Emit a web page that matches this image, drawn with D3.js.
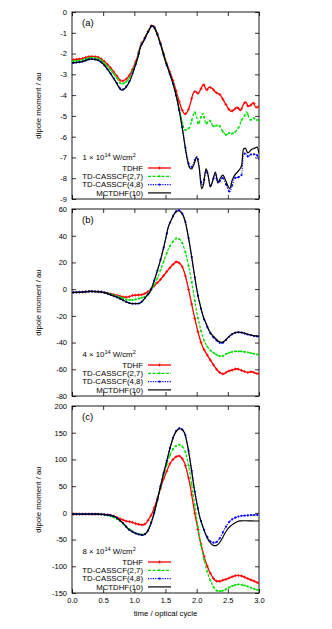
<!DOCTYPE html>
<html>
<head>
<meta charset="utf-8">
<script src="https://cdn.jsdelivr.net/npm/d3@7"></script>
<style>
  body { margin: 0; background: #fff; }
  svg { display: block; font-family: "Liberation Sans", Arial, sans-serif; }
  .tick text { font-size: 7.5px; fill: #000; }
  .tick line { stroke: #000; stroke-width: 0.8; }
</style>
</head>
<body>
<script>
// data: [time / optical cycle, dipole moment / au]

// panel (a) 1e14 W/cm2
var aTDHF = [[0,-2.3],[0.15,-2.25],[0.3,-2.14],[0.4,-2.16],[0.5,-2.33],[0.6,-2.62],[0.7,-3.0],[0.8,-3.33],[0.86,-3.25],[0.93,-3.0],[1.0,-2.55],[1.05,-2.15],[1.1,-1.6],[1.15,-1.35],[1.2,-1.05],[1.25,-0.78],[1.28,-0.64],[1.32,-0.72],[1.37,-1.05],[1.43,-1.6],[1.5,-2.3],[1.56,-2.8],[1.62,-3.3],[1.68,-3.9],[1.73,-4.4],[1.78,-4.8],[1.81,-4.91],[1.86,-4.75],[1.9,-4.4],[1.94,-3.95],[1.98,-3.82],[2.02,-3.92],[2.06,-3.75],[2.11,-3.49],[2.16,-3.76],[2.2,-3.62],[2.24,-3.66],[2.3,-3.85],[2.38,-4.0],[2.44,-4.3],[2.5,-4.6],[2.55,-4.78],[2.6,-4.7],[2.65,-4.58],[2.7,-4.75],[2.75,-4.45],[2.79,-4.33],[2.83,-4.55],[2.88,-4.45],[2.91,-4.36],[2.95,-4.6],[3.0,-4.52]];
var aCAS27 = [[0,-2.37],[0.15,-2.32],[0.3,-2.2],[0.4,-2.22],[0.5,-2.4],[0.6,-2.72],[0.7,-3.1],[0.8,-3.46],[0.86,-3.38],[0.93,-3.12],[1.0,-2.62],[1.05,-2.2],[1.1,-1.63],[1.15,-1.37],[1.2,-1.06],[1.25,-0.78],[1.28,-0.65],[1.32,-0.73],[1.37,-1.07],[1.43,-1.62],[1.5,-2.33],[1.56,-2.85],[1.62,-3.4],[1.68,-4.1],[1.73,-4.75],[1.78,-5.45],[1.82,-5.68],[1.86,-5.62],[1.89,-5.55],[1.93,-5.1],[1.97,-4.83],[2.0,-5.05],[2.03,-5.4],[2.07,-5.05],[2.1,-4.88],[2.15,-5.4],[2.2,-5.2],[2.27,-5.5],[2.35,-5.45],[2.43,-5.8],[2.48,-5.92],[2.52,-5.82],[2.56,-5.85],[2.64,-5.7],[2.69,-5.45],[2.72,-5.2],[2.76,-5.05],[2.8,-4.8],[2.83,-5.0],[2.86,-5.2],[2.9,-5.1],[2.94,-5.15],[3.0,-5.25]];
var aCAS48 = [[0,-2.45],[0.15,-2.4],[0.3,-2.27],[0.4,-2.3],[0.5,-2.5],[0.6,-2.88],[0.7,-3.33],[0.8,-3.74],[0.86,-3.63],[0.93,-3.28],[1.0,-2.7],[1.05,-2.26],[1.1,-1.67],[1.15,-1.4],[1.2,-1.08],[1.25,-0.8],[1.28,-0.66],[1.32,-0.75],[1.37,-1.1],[1.43,-1.65],[1.5,-2.38],[1.56,-2.9],[1.62,-3.45],[1.68,-4.15],[1.73,-4.88],[1.77,-5.55],[1.81,-6.35],[1.85,-7.0],[1.89,-7.45],[1.92,-7.45],[1.96,-7.2],[2.0,-6.95],[2.04,-7.4],[2.08,-8.3],[2.11,-8.2],[2.15,-7.6],[2.18,-7.85],[2.22,-8.35],[2.26,-8.1],[2.3,-7.8],[2.34,-8.25],[2.38,-8.1],[2.42,-8.0],[2.47,-8.3],[2.53,-8.65],[2.57,-8.35],[2.61,-8.0],[2.67,-7.95],[2.72,-7.85],[2.75,-6.9],[2.78,-6.8],[2.82,-6.95],[2.88,-6.85],[2.93,-6.85],[2.97,-6.9],[3.0,-7.15]];
var aMCTDHF = [[0,-2.45],[0.15,-2.4],[0.3,-2.27],[0.4,-2.3],[0.5,-2.5],[0.6,-2.88],[0.7,-3.35],[0.8,-3.76],[0.86,-3.65],[0.93,-3.3],[1.0,-2.72],[1.05,-2.27],[1.1,-1.68],[1.15,-1.4],[1.2,-1.08],[1.25,-0.8],[1.28,-0.66],[1.32,-0.75],[1.37,-1.1],[1.43,-1.65],[1.5,-2.38],[1.56,-2.9],[1.62,-3.45],[1.68,-4.15],[1.73,-4.9],[1.77,-5.6],[1.81,-6.4],[1.85,-7.1],[1.89,-7.5],[1.92,-7.55],[1.96,-7.3],[2.0,-7.0],[2.04,-7.5],[2.08,-8.5],[2.11,-8.3],[2.15,-7.55],[2.18,-7.8],[2.22,-8.42],[2.26,-8.1],[2.3,-7.7],[2.34,-8.2],[2.38,-8.0],[2.42,-7.85],[2.47,-8.15],[2.53,-8.5],[2.57,-8.1],[2.61,-7.85],[2.67,-7.65],[2.72,-7.4],[2.75,-6.6],[2.78,-6.55],[2.82,-6.78],[2.88,-6.62],[2.93,-6.55],[2.97,-6.5],[3.0,-6.8]];

// panel (b) 4e14 W/cm2
var bTDHF = [[0,-2.5],[0.15,-2.2],[0.3,-1.7],[0.45,-2.0],[0.55,-2.8],[0.65,-3.8],[0.77,-5.2],[0.85,-6.0],[0.92,-5.6],[0.98,-4.6],[1.05,-4.4],[1.12,-4.2],[1.18,-3.0],[1.25,-0.8],[1.3,1.6],[1.41,6.7],[1.54,14.2],[1.62,18.5],[1.68,20.5],[1.72,19.5],[1.76,17.5],[1.81,11.5],[1.85,4],[1.89,-4.6],[1.97,-22],[2.05,-37],[2.1,-43.5],[2.16,-48.6],[2.26,-56],[2.32,-60],[2.37,-62.4],[2.44,-63.6],[2.48,-62],[2.52,-61.2],[2.58,-60.5],[2.64,-59.6],[2.7,-60.5],[2.76,-61.5],[2.82,-62.4],[2.88,-61.8],[2.94,-62.8],[3.0,-63.5]];
var bCAS27 = [[0,-2.5],[0.15,-2.2],[0.3,-1.7],[0.45,-2.0],[0.55,-2.9],[0.65,-4.2],[0.77,-6.0],[0.88,-7.8],[0.96,-8.2],[1.03,-7.5],[1.1,-6.6],[1.17,-5.6],[1.23,-2.8],[1.28,0.4],[1.35,6],[1.41,13],[1.48,22],[1.54,29.3],[1.61,35],[1.68,38.1],[1.72,37.5],[1.76,35.5],[1.8,30.5],[1.84,24],[1.88,15],[1.92,5.4],[1.96,-6],[2.0,-17],[2.05,-27.5],[2.1,-36],[2.15,-41.5],[2.2,-44.8],[2.28,-48],[2.35,-49.8],[2.4,-50.3],[2.47,-48.5],[2.54,-47.3],[2.62,-46.6],[2.7,-46.6],[2.78,-47],[2.86,-47.8],[2.93,-48.4],[3.0,-49.3]];
var bCAS48 = [[0,-2.5],[0.15,-2.2],[0.3,-1.7],[0.45,-2.0],[0.55,-3.0],[0.65,-4.8],[0.77,-7.1],[0.87,-9.5],[0.96,-10.8],[1.06,-10.8],[1.1,-10.1],[1.14,-8.3],[1.2,-5],[1.25,-2.1],[1.33,8],[1.39,17],[1.44,25.5],[1.5,37],[1.54,45.7],[1.6,52.5],[1.65,57.2],[1.71,59],[1.75,57.8],[1.79,54.6],[1.83,48.3],[1.86,40.8],[1.9,30.2],[1.94,18],[1.98,6],[2.02,-4.8],[2.06,-12.8],[2.1,-20],[2.15,-26],[2.2,-31.5],[2.25,-35],[2.31,-38],[2.36,-40],[2.4,-40.5],[2.44,-39.5],[2.48,-37.6],[2.53,-35.2],[2.59,-33.2],[2.67,-32.4],[2.74,-32.8],[2.8,-33.7],[2.86,-34.4],[2.91,-35],[3.0,-35.5]];
var bMCTDHF = [[0,-2.5],[0.15,-2.2],[0.3,-1.7],[0.45,-2.0],[0.55,-3.0],[0.65,-4.8],[0.77,-7.1],[0.87,-9.5],[0.96,-10.9],[1.06,-10.9],[1.1,-10.2],[1.14,-8.4],[1.2,-5],[1.25,-2.1],[1.33,8],[1.39,17],[1.44,25.5],[1.5,37],[1.54,45.7],[1.6,52.5],[1.65,57],[1.71,58.7],[1.75,57.5],[1.79,54.4],[1.83,48],[1.86,40.6],[1.9,30],[1.94,18],[1.98,6],[2.02,-4.6],[2.06,-12.5],[2.1,-19.7],[2.15,-25.5],[2.2,-31],[2.25,-34.5],[2.31,-37.3],[2.36,-39.3],[2.4,-39.8],[2.44,-39],[2.48,-37.3],[2.53,-35],[2.59,-33],[2.67,-32.2],[2.74,-32.6],[2.8,-33.5],[2.86,-34.2],[2.91,-34.8],[3.0,-35.2]];

// panel (c) 8e14 W/cm2
var cTDHF = [[0,-2.5],[0.2,-2.3],[0.4,-2.5],[0.55,-3.5],[0.65,-5.5],[0.77,-11],[0.87,-15.5],[0.96,-17.5],[1.04,-20.6],[1.12,-22.5],[1.17,-21],[1.2,-17.5],[1.24,-10],[1.28,-2],[1.36,23],[1.46,60.7],[1.52,78],[1.57,91.8],[1.63,101],[1.68,105.6],[1.72,106.5],[1.77,101],[1.81,92],[1.85,75],[1.89,54.4],[1.93,27],[1.97,-0.6],[2.01,-25],[2.05,-48.8],[2.09,-68],[2.13,-86.3],[2.17,-100],[2.21,-111],[2.25,-119],[2.29,-125.6],[2.33,-128],[2.37,-128],[2.42,-126],[2.48,-124],[2.54,-121],[2.59,-118.7],[2.65,-117],[2.7,-117.5],[2.75,-119.5],[2.8,-122],[2.87,-125.5],[2.94,-128.6],[3.0,-132]];
var cCAS27 = [[0,-2.5],[0.2,-2.3],[0.4,-2.5],[0.55,-4],[0.65,-7.5],[0.77,-15],[0.87,-26],[0.96,-33.5],[1.04,-38.5],[1.12,-40.5],[1.17,-39.5],[1.22,-32],[1.26,-20],[1.3,-7],[1.38,29],[1.46,66],[1.52,90],[1.57,107.5],[1.63,121],[1.68,126],[1.73,127.5],[1.77,124],[1.81,117],[1.85,99],[1.89,76],[1.93,45],[1.97,13.8],[2.01,-18],[2.05,-48.8],[2.09,-72],[2.13,-92.5],[2.17,-110],[2.21,-123.7],[2.25,-134],[2.29,-142.5],[2.35,-146.5],[2.4,-146],[2.48,-142.5],[2.54,-138.5],[2.59,-136],[2.67,-134],[2.74,-135],[2.8,-137],[2.87,-140],[2.94,-143],[3.0,-145]];
var cCAS48 = [[0,-2.5],[0.2,-2.3],[0.4,-2.5],[0.5,-3],[0.61,-4.5],[0.7,-8],[0.77,-14.3],[0.85,-23],[0.9,-30],[0.97,-35.5],[1.04,-39.3],[1.1,-41],[1.14,-41.5],[1.18,-39],[1.22,-33.1],[1.26,-22],[1.3,-8.1],[1.34,10],[1.38,29.4],[1.42,50],[1.46,70],[1.52,97.5],[1.57,121],[1.61,137],[1.65,149],[1.69,156],[1.73,158.5],[1.77,156],[1.81,149],[1.85,129],[1.89,102],[1.93,71],[1.97,40],[2.01,14.5],[2.05,-7.5],[2.09,-22],[2.13,-35],[2.17,-45],[2.21,-52],[2.25,-55.5],[2.29,-56],[2.33,-53.5],[2.37,-47.5],[2.4,-41],[2.44,-32],[2.48,-24],[2.53,-16],[2.59,-11],[2.64,-8],[2.7,-6],[2.78,-5],[2.86,-4.5],[2.93,-4],[3.0,-4]];
var cMCTDHF = [[0,-2.5],[0.2,-2.3],[0.4,-2.5],[0.5,-3],[0.61,-4.5],[0.7,-8],[0.77,-14.3],[0.85,-23],[0.9,-30],[0.97,-35.5],[1.04,-39.3],[1.1,-41],[1.14,-41.5],[1.18,-39],[1.22,-33.1],[1.26,-22],[1.3,-8.1],[1.34,10],[1.38,29.4],[1.42,50],[1.46,70],[1.52,97],[1.57,120],[1.61,136],[1.65,148],[1.69,155],[1.73,157.4],[1.77,155],[1.81,148],[1.85,128],[1.89,101],[1.93,70],[1.97,39],[2.01,14],[2.05,-8.1],[2.09,-23],[2.13,-36.2],[2.17,-47],[2.21,-55],[2.25,-59.5],[2.29,-61.5],[2.33,-60],[2.37,-55.5],[2.4,-50],[2.44,-41],[2.48,-33],[2.53,-26],[2.59,-20.6],[2.64,-17],[2.7,-15],[2.78,-14.8],[2.86,-15],[2.93,-15.2],[3.0,-15.2]];

var seriesNames = ['TDHF', 'TD-CASSCF(2,7)', 'TD-CASSCF(4,8)', 'MCTDHF(10)'];
var panelLetters = ['(a)', '(b)', '(c)'];
var intensities = ['1', '4', '8'];
var yDomains = [[-9, 0], [-80, 60], [-150, 200]];
var yTicks = [d3.range(-9, 1, 1), d3.range(-80, 61, 20), d3.range(-150, 201, 50)];
var xTicks = [0, 0.5, 1, 1.5, 2, 2.5, 3];
var panelData = [
  [aTDHF, aCAS27, aCAS48, aMCTDHF],
  [bTDHF, bCAS27, bCAS48, bMCTDHF],
  [cTDHF, cCAS27, cCAS48, cMCTDHF]
];

// styles ------------------------------------------
var styles = [
  {color: '#ff0000', dash: null, width: 1.3, marker: 'plus'},
  {color: '#00dd00', dash: '3,1.5', width: 1.2, marker: 'square'},
  {color: '#0000ff', dash: '1.2,1.2', width: 1.1, marker: 'dot'},
  {color: '#000000', dash: null, width: 1.2, marker: null}
];

var W = 332, H = 629;
var left = 72, right = 259;
var tops = [12, 209, 406];
var ph = 187;

var svg = d3.select('body').append('svg')
  .attr('width', W)
  .attr('height', H);

var x = d3.scaleLinear().domain([0, 3]).range([left, right]);

var drawMarker = function(g, kind, px, py, color) {
  if (kind === 'plus') {
    g.append('path')
      .attr('d', 'M' + (px - 1.5) + ',' + py + 'h3M' + px + ',' + (py - 1.5) + 'v3')
      .attr('stroke', color).attr('stroke-width', 0.8).attr('fill', 'none');
  } else if (kind === 'square') {
    g.append('rect')
      .attr('x', px - 0.9).attr('y', py - 0.9)
      .attr('width', 1.8).attr('height', 1.8)
      .attr('fill', color);
  } else if (kind === 'dot') {
    g.append('circle')
      .attr('cx', px).attr('cy', py).attr('r', 1.1)
      .attr('fill', color);
  }
};

// point on a path whose x equals target (x grows with length here)
var pointAtX = function(node, target) {
  var lo = 0, hi = node.getTotalLength(), p;
  for (var i = 0; i < 22; i++) {
    var mid = (lo + hi) / 2;
    p = node.getPointAtLength(mid);
    if (p.x < target) lo = mid; else hi = mid;
  }
  return p;
};

panelData.forEach(function(series, k) {
  var top = tops[k], bottom = top + ph;
  var y = d3.scaleLinear().domain(yDomains[k]).range([bottom, top]);
  var g = svg.append('g');

  var line = d3.line()
    .x(function(d) { return x(d[0]); })
    .y(function(d) { return y(d[1]); })
    .curve(d3.curveMonotoneX);

  // axes with inward ticks on all four sides
  g.append('g').attr('transform', 'translate(' + left + ',0)')
    .call(d3.axisLeft(y).tickValues(yTicks[k]).tickSizeInner(-4).tickSizeOuter(0).tickPadding(5)
      .tickFormat(function(d) { return String(d); }));
  g.append('g').attr('transform', 'translate(' + right + ',0)')
    .call(d3.axisRight(y).tickValues(yTicks[k]).tickSizeInner(-4).tickSizeOuter(0).tickFormat(''));
  g.append('g').attr('transform', 'translate(0,' + top + ')')
    .call(d3.axisTop(x).tickValues(xTicks).tickSizeInner(-4).tickSizeOuter(0).tickFormat(''));
  g.append('g').attr('transform', 'translate(0,' + bottom + ')')
    .call(d3.axisBottom(x).tickValues(xTicks).tickSizeInner(-4).tickSizeOuter(0).tickPadding(5)
      .tickFormat(k === 2 ? function(d) { return d.toFixed(1); } : ''));
  g.selectAll('.domain').remove();

  g.append('rect')
    .attr('x', left).attr('y', top)
    .attr('width', right - left).attr('height', ph)
    .attr('fill', 'none').attr('stroke', '#000').attr('stroke-width', 0.9);

  var clipId = 'clip' + k;
  g.append('clipPath').attr('id', clipId)
    .append('rect').attr('x', left).attr('y', top - 2).attr('width', right - left).attr('height', ph + 4);
  var plot = g.append('g').attr('clip-path', 'url(#' + clipId + ')');

  series.forEach(function(data, s) {
    var st = styles[s];
    var path = plot.append('path')
      .datum(data)
      .attr('d', line)
      .attr('fill', 'none')
      .attr('stroke', st.color)
      .attr('stroke-width', st.width)
      .attr('stroke-dasharray', st.dash);
    if (st.marker) {
      var node = path.node();
      for (var t = 0.02; t < 3; t += 0.05) {
        var p = pointAtX(node, x(t));
        drawMarker(plot, st.marker, p.x, p.y, st.color);
      }
    }
  });

  // panel letter
  g.append('text')
    .attr('x', 82).attr('y', top + 14)
    .attr('font-size', 9.5)
    .text(panelLetters[k]);

  // y label
  g.append('text')
    .attr('transform', 'translate(41,' + (top + ph / 2) + ') rotate(-90)')
    .attr('text-anchor', 'middle')
    .attr('font-size', 7.8)
    .text('dipole moment / au');

  // legend
  var leg = g.append('g').attr('font-size', 7.8);
  var title = leg.append('text').attr('x', 82.5).attr('y', bottom - 39);
  title.append('tspan').text(intensities[k] + ' \u00d7 10');
  title.append('tspan').attr('font-size', 5.5).attr('dy', -3.2).text('14');
  title.append('tspan').attr('dy', 3.2).text(' W/cm');
  title.append('tspan').attr('font-size', 5.5).attr('dy', -3.2).text('2');

  seriesNames.forEach(function(name, s) {
    var st = styles[s];
    var ry = bottom - 31 + s * 8.3;
    leg.append('text')
      .attr('x', 143).attr('y', ry + 2.7)
      .attr('text-anchor', 'end')
      .text(name);
    leg.append('line')
      .attr('x1', 148).attr('x2', 171).attr('y1', ry).attr('y2', ry)
      .attr('stroke', st.color)
      .attr('stroke-width', st.width)
      .attr('stroke-dasharray', st.dash);
    if (st.marker) drawMarker(leg, st.marker, 159.5, ry, st.color);
  });
});

svg.append('text')
  .attr('x', (left + right) / 2).attr('y', 615.5)
  .attr('text-anchor', 'middle')
  .attr('font-size', 7.8)
  .text('time / optical cycle');
</script>
</body>
</html>
